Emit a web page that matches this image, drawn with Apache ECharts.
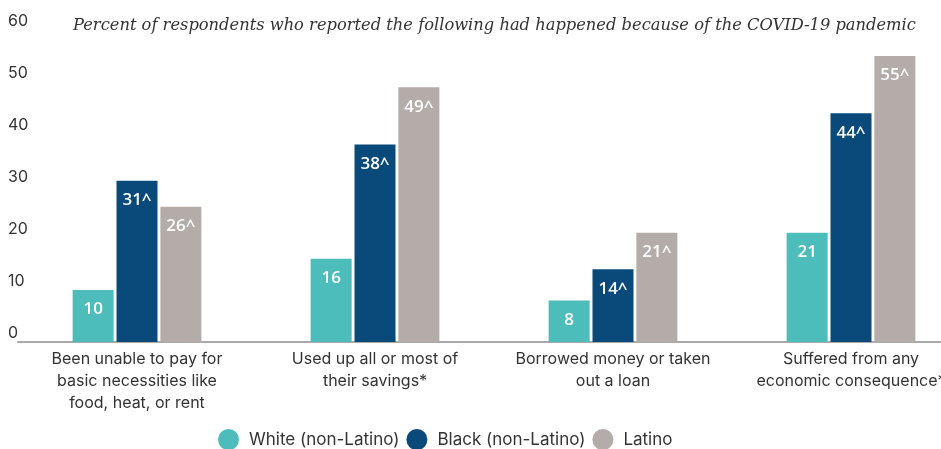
<!DOCTYPE html>
<html>
<head>
<meta charset="utf-8">
<script src="https://cdn.jsdelivr.net/npm/echarts@6/dist/echarts.min.js"></script>
<style>
  html, body { margin: 0; padding: 0; background: #fff; }
  #chart { width: 941px; height: 449px; }
</style>
</head>
<body>
<div id="chart"></div>
<script>
// 数据
var categories = [
  'Been unable to pay for\nbasic necessities like\nfood, heat, or rent',
  'Used up all or most of\ntheir savings*',
  'Borrowed money or taken\nout a loan',
  'Suffered from any\neconomic consequence*'
]
var seriesNames = ['White (non-Latino)', 'Black (non-Latino)', 'Latino']
var whiteValues = [10, 16, 8, 21]
var blackValues = [31, 38, 14, 44]
var latinoValues = [26, 49, 21, 55]
var yTicks = [0, 10, 20, 30, 40, 50, 60]

var colors = ['#4cbdba', '#0a4a7b', '#b3aca8']
var chart = echarts.init(document.getElementById('chart'))

function barLabel(suffix) {
  return {
    show: true,
    position: 'insideTop',
    distance: 11,
    color: '#fff',
    fontFamily: 'Open Sans',
    fontWeight: 600,
    fontSize: 17,
    formatter: function (p) { return p.value + suffix }
  }
}

var option = {
  animation: false,
  color: colors,
  title: {
    text: 'Percent of respondents who reported the following had happened because of the COVID-19 pandemic',
    left: 68,
    top: 13,
    textStyle: {
      fontFamily: 'DejaVu Serif',
      fontStyle: 'italic',
      fontWeight: 'normal',
      fontSize: 16.3,
      color: '#333'
    }
  },
  legend: {
    bottom: -6,
    left: 213,
    icon: 'circle',
    itemWidth: 31,
    itemHeight: 21,
    itemGap: 7,
    textStyle: { fontFamily: 'Inter', fontSize: 17, color: '#333' },
    data: seriesNames
  },
  grid: {
    left: 18,
    top: 30,
    width: 952,
    height: 312,
    outerBoundsMode: 'none'
  },
  xAxis: {
    type: 'category',
    data: categories,
    axisLine: { lineStyle: { color: '#aaa', width: 2 } },
    axisTick: { show: false },
    axisLabel: {
      interval: 0,
      margin: 6,
      color: '#333',
      fontFamily: 'Inter',
      fontSize: 16,
      lineHeight: 22
    }
  },
  yAxis: {
    type: 'value',
    min: yTicks[0],
    max: yTicks[yTicks.length - 1],
    interval: 10,
    splitLine: { show: false },
    axisLine: { show: false },
    axisTick: { show: false },
    axisLabel: {
      align: 'left',
      margin: 10,
      verticalAlign: 'bottom',
      padding: [0, 0, 1, 0],
      color: '#333',
      fontFamily: 'Inter',
      fontSize: 16
    }
  },
  series: [
    { name: seriesNames[0], type: 'bar', data: whiteValues, barWidth: 41, barGap: '7%', label: barLabel('') },
    { name: seriesNames[1], type: 'bar', data: blackValues, barWidth: 41, barGap: '7%', label: barLabel('^') },
    { name: seriesNames[2], type: 'bar', data: latinoValues, barWidth: 41, barGap: '7%', label: barLabel('^') }
  ]
}

chart.setOption(option)
</script>
</body>
</html>
